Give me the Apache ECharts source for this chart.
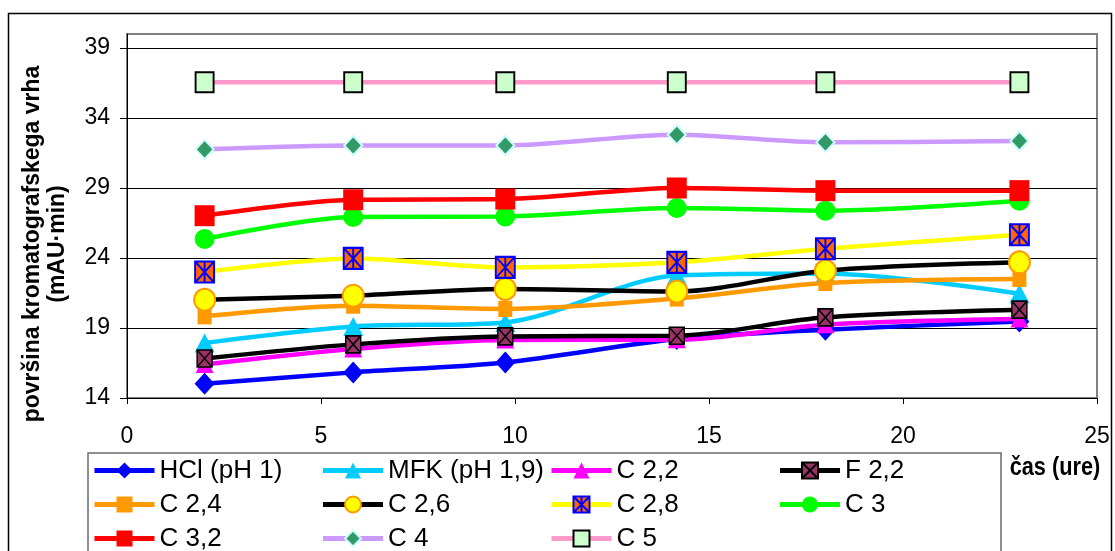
<!DOCTYPE html>
<html>
<head>
<meta charset="utf-8">
<script src="https://cdn.jsdelivr.net/npm/echarts@6/dist/echarts.min.js"></script>
<style>
html,body{margin:0;padding:0;background:#fff;}
#c{width:1115px;height:551px;}
</style>
</head>
<body>
<div id="c"></div>
<script>
// time in hours
var times = [2, 5.83, 9.75, 14.17, 18, 23];
var seriesNames = ['HCl (pH 1)', 'MFK (pH 1,9)', 'C 2,2', 'F 2,2', 'C 2,4', 'C 2,6', 'C 2,8', 'C 3', 'C 3,2', 'C 4', 'C 5'];
var hcl  = [15.02, 15.83, 16.54, 18.21, 18.88, 19.47];
var mfk  = [17.93, 19.11, 19.40, 22.75, 22.90, 21.45];
var c22  = [16.40, 17.50, 18.15, 18.16, 19.24, 19.64];
var f22  = [16.82, 17.83, 18.40, 18.45, 19.76, 20.31];
var c24  = [19.83, 20.59, 20.36, 21.10, 22.21, 22.50];
var c26  = [21.02, 21.31, 21.79, 21.61, 23.09, 23.69];
var c28  = [23.00, 23.97, 23.33, 23.69, 24.66, 25.66];
var c3   = [25.36, 26.93, 26.97, 27.57, 27.38, 28.09];
var c32  = [27.02, 28.16, 28.21, 29.00, 28.81, 28.81];
var c4   = [31.76, 32.04, 32.04, 32.81, 32.26, 32.36];
var c5   = [36.55, 36.55, 36.55, 36.55, 36.55, 36.55];
var xTicks = [0, 5, 10, 15, 20, 25];
var yTicks = [14, 19, 24, 29, 34, 39];

var allValues = [hcl, mfk, c22, f22, c24, c26, c28, c3, c32, c4, c5];

var styles = [
  {line:'#0000FF', symbol:'diamond', size:[20,22], color:'#0000FF'},
  {line:'#00CCFF', symbol:'triangle', size:[20,19], color:'#00CCFF'},
  {line:'#FF00FF', symbol:'triangle', size:[18,17], color:'#FF00FF'},
  {line:'#000000', symbol:'path://M0,0H10V10H0Z M0,0L10,10 M10,0L0,10', size:[15,17], color:'#993366', border:'#000000', bw:1.5},
  {line:'#FF9900', symbol:'rect', size:[14,16], color:'#FF9900'},
  {line:'#000000', symbol:'circle', size:[21,22], color:'#FFFF00', border:'#FF9900', bw:2},
  {line:'#FFFF00', symbol:'path://M0,0H10V10H0Z M0,0L10,10 M10,0L0,10 M5,0L5,10', size:[19,21], color:'#FF6600', border:'#0000FF', bw:2},
  {line:'#00FF00', symbol:'circle', size:20, color:'#00FF00'},
  {line:'#FF0000', symbol:'rect', size:[20,21], color:'#FF0000'},
  {line:'#CC99FF', symbol:'diamond', size:[18,19], color:'#339966', border:'#CCFFFF', bw:2},
  {line:'#FF99CC', symbol:'rect', size:[18,20], color:'#CCFFCC', border:'#000000', bw:2}
];

var series = seriesNames.map(function(name, i){
  var s = styles[i];
  return {
    name: name,
    type: 'line',
    smooth: 0.3,
    data: times.map(function(t, j){ return [t, allValues[i][j]]; }),
    symbol: s.symbol,
    symbolSize: s.size,
    showAllSymbol: true,
    lineStyle: {color: s.line, width: 4.5},
    itemStyle: {color: s.color, borderColor: s.border || s.color, borderWidth: s.bw || 0, opacity: 1},
    emphasis: {disabled: true},
    z: 2 + i
  };
});

var chart = echarts.init(document.getElementById('c'), null, {renderer:'canvas'});
chart.setOption({
  animation: false,
  backgroundColor: '#ffffff',
  textStyle: {fontFamily: 'Liberation Sans, Arial, sans-serif'},
  grid: {left: 127, right: 18, top: 34, bottom: 153, show: true, borderColor: '#808080', borderWidth: 2, backgroundColor: 'transparent'},
  xAxis: {
    type: 'value', min: xTicks[0], max: xTicks[xTicks.length-1], interval: 5,
    axisLine: {show: true, onZero: false, lineStyle: {color: '#000', width: 1}},
    axisTick: {show: true, length: 6, inside: false, lineStyle: {color: '#000'}},
    axisLabel: {color: '#000', fontSize: 23, margin: 27, fontFamily: 'Liberation Sans'},
    splitLine: {show: false}
  },
  yAxis: {
    type: 'value', min: yTicks[0], max: 40, interval: 5,
    axisLine: {show: true, onZero: false, lineStyle: {color: '#000', width: 1}},
    axisTick: {show: true, length: 7, inside: false, lineStyle: {color: '#000'}},
    axisLabel: {color: '#000', fontSize: 23, margin: 17, showMaxLabel: false, fontFamily: 'Liberation Sans'},
    splitLine: {show: true, showMaxLine: false, lineStyle: {color: '#000', width: 1}}
  },
  legend: {
    show: true,
    data: seriesNames,
    left: 88, top: 453, width: 960,
    orient: 'horizontal',
    padding: [3, 0, 4, 4],
    itemGap: 5,
    itemWidth: 60,
    itemHeight: 20,
    borderColor: '#6a6a6a', borderWidth: 1.5,
    selectedMode: false,
    lineStyle: {width: 5},
    textStyle: {color: '#000', fontSize: 26, width: 156, lineHeight: 29, fontFamily: 'Liberation Sans'}
  },
  graphic: [
    {type: 'rect', shape: {x: 8.5, y: 13.5, width: 1103, height: 600}, style: {fill: 'none', stroke: '#000', lineWidth: 1.5}, silent: true, z: 0},
    {type: 'text', x: 1055, y: 468, scaleX: 0.87, style: {text: 'čas (ure)', font: 'bold 25px "Liberation Sans", Arial, sans-serif', fill: '#000', textAlign: 'center', textVerticalAlign: 'middle'}, z: 10},
    {type: 'text', x: 45, y: 244, rotation: Math.PI/2, style: {text: 'površina kromatografskega vrha\n(mAU·min)', font: 'bold 23px "Liberation Sans", Arial, sans-serif', fill: '#000', textAlign: 'center', textVerticalAlign: 'middle', lineHeight: 25}, z: 10}
  ],
  series: series
});
</script>
</body>
</html>
